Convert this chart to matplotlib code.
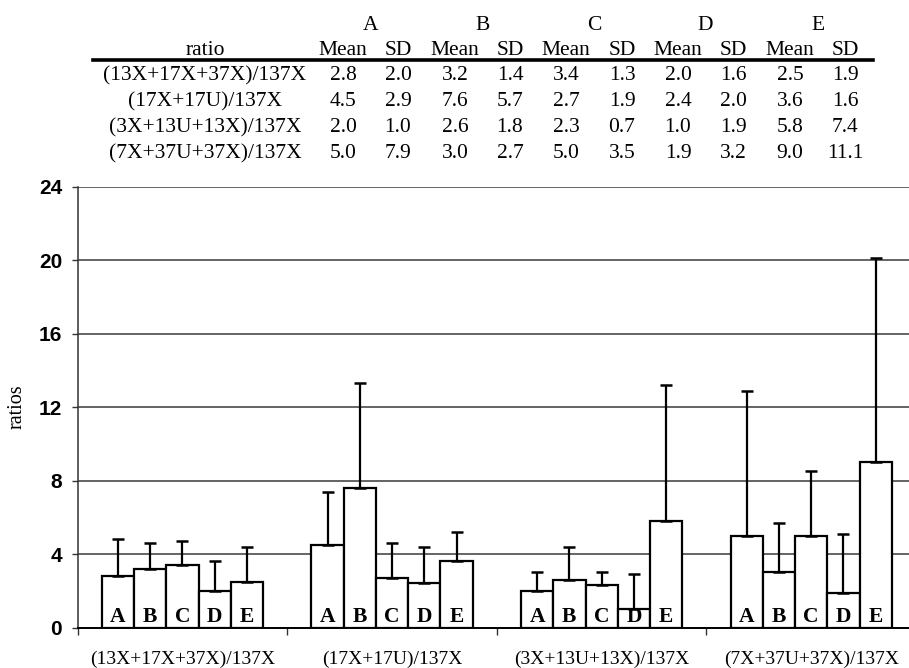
import matplotlib
matplotlib.use("Agg")
import matplotlib.pyplot as plt
import numpy as np

# ---- data ----
ratios = ["(13X+17X+37X)/137X", "(17X+17U)/137X", "(3X+13U+13X)/137X", "(7X+37U+37X)/137X"]
groups = ["A", "B", "C", "D", "E"]
mean_A = [2.8, 4.5, 2.0, 5.0]
sd_A = [2.0, 2.9, 1.0, 7.9]
mean_B = [3.2, 7.6, 2.6, 3.0]
sd_B = [1.4, 5.7, 1.8, 2.7]
mean_C = [3.4, 2.7, 2.3, 5.0]
sd_C = [1.3, 1.9, 0.7, 3.5]
mean_D = [2.0, 2.4, 1.0, 1.9]
sd_D = [1.6, 2.0, 1.9, 3.2]
mean_E = [2.5, 3.6, 5.8, 9.0]
sd_E = [1.9, 1.6, 7.4, 11.1]
y_ticks = [0, 4, 8, 12, 16, 20, 24]

means = [mean_A, mean_B, mean_C, mean_D, mean_E]
sds = [sd_A, sd_B, sd_C, sd_D, sd_E]

W, H = 909, 668
fig = plt.figure(figsize=(W / 100, H / 100), dpi=100)
SERIF = "Liberation Serif"
SANS = "Liberation Sans"

def fx(px):
    return px / W

def fy(py):
    return 1 - py / H

# ---- table ----
tfs = 15.5
mean_x = [343, 455, 566, 678, 790]
sd_x = [398, 510, 622, 733, 845]
ratio_x = 205
for g, mx, sx in zip(groups, mean_x, sd_x):
    fig.text(fx((mx + sx) / 2), fy(30), g, ha="center", va="baseline",
             family=SERIF, fontsize=tfs)
    fig.text(fx(mx), fy(55), "Mean", ha="center", va="baseline", family=SERIF, fontsize=tfs)
    fig.text(fx(sx), fy(55), "SD", ha="center", va="baseline", family=SERIF, fontsize=tfs)
fig.text(fx(ratio_x), fy(55), "ratio", ha="center", va="baseline", family=SERIF, fontsize=tfs)
fig.add_artist(plt.Line2D([fx(93), fx(873)], [fy(59.5), fy(59.5)], color="black", lw=2.6))
row_base = [80, 106, 132, 158]
for i, r in enumerate(ratios):
    fig.text(fx(ratio_x), fy(row_base[i]), r, ha="center", va="baseline", family=SERIF, fontsize=tfs)
    for g in range(5):
        fig.text(fx(mean_x[g]), fy(row_base[i]), f"{means[g][i]:.1f}", ha="center",
                 va="baseline", family=SERIF, fontsize=tfs)
        fig.text(fx(sd_x[g]), fy(row_base[i]), f"{sds[g][i]:.1f}", ha="center",
                 va="baseline", family=SERIF, fontsize=tfs)

# ---- bar chart ----
left_px, right_px = 77.7, 916.0
top_px, bot_px = 186.7, 627.5
ax = fig.add_axes([fx(left_px), fy(bot_px), fx(right_px - left_px), (bot_px - top_px) / H])

bw = 0.154
cats = np.arange(len(ratios))
for g in range(5):
    xs = cats + 0.5 + (g - 2) * bw
    ax.bar(xs, means[g], width=bw, color="white", edgecolor="black", linewidth=1.6, zorder=2)
    ax.errorbar(xs, means[g], yerr=[np.zeros(len(ratios)), sds[g]], fmt="none",
                ecolor="black", elinewidth=1.6, capsize=4.4, capthick=1.8, zorder=3)
    for x in xs:
        ax.annotate(groups[g], (x, 0), xytext=(0, 3.6), textcoords="offset points",
                    ha="center", va="baseline", family=SERIF, fontweight="bold",
                    fontsize=15.5, zorder=4)

ax.set_xlim(0, len(ratios))
ax.set_ylim(0, 24)
ax.set_yticks(y_ticks)
ax.set_yticklabels([str(t) for t in y_ticks], family=SANS, fontweight="bold", fontsize=15)
ax.tick_params(axis="y", direction="out", length=4.3, width=1, color="#333333", pad=7)
ax.set_xticks(np.arange(len(ratios) + 1))
ax.set_xticklabels([])
ax.set_xticks(cats + 0.5, minor=True)
ax.set_xticklabels(ratios, minor=True, family=SERIF, fontsize=14)
ax.tick_params(axis="x", which="major", direction="out", length=5, width=1, color="#333333")
ax.tick_params(axis="x", which="minor", length=0, pad=16.5)
ax.yaxis.grid(True, color="#3a3a3a", linewidth=1.1)
ax.set_axisbelow(True)
for s in ["top", "right"]:
    ax.spines[s].set_visible(False)
ax.spines["left"].set_color("#333333")
ax.spines["left"].set_linewidth(1.1)
ax.spines["bottom"].set_color("black")
ax.spines["bottom"].set_linewidth(1.4)
ax.spines["bottom"].set_zorder(5)

fig.text(fx(17), fy(407), "ratios", rotation=90, ha="center", va="center",
         family=SERIF, fontsize=14.5)

fig.savefig("out.png", dpi=100)
